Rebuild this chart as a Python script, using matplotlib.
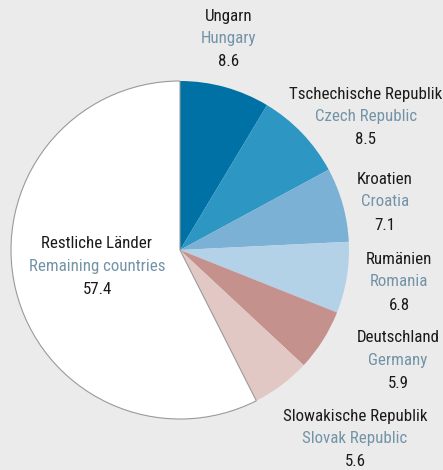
import matplotlib.pyplot as plt

# données : part en %, dans le sens horaire depuis midi
pays_de = ['Ungarn', 'Tschechische Republik', 'Kroatien', 'Rumänien',
           'Deutschland', 'Slowakische Republik', 'Restliche Länder']
pays_en = ['Hungary', 'Czech Republic', 'Croatia', 'Romania',
           'Germany', 'Slovak Republic', 'Remaining countries']
parts = [8.6, 8.5, 7.1, 6.8, 5.9, 5.6, 57.4]

couleurs = ['#0071a4', '#2e96c3', '#7ab1d5', '#b4d2e7', '#c5918d', '#e2c8c4', '#ffffff']
# position des étiquettes (pixels, origine en haut à gauche)
pos_labels = [(229, 17), (366, 95), (385, 180), (399, 260), (398, 338), (355, 417), (97, 244)]

W, H = 443, 470
fig = plt.figure(figsize=(W / 100, H / 100), dpi=100, facecolor='#ebebeb')
ax = fig.add_axes([0, 0, 1, 1])
ax.set_xlim(0, W)
ax.set_ylim(0, H)
ax.set_aspect('equal')
ax.axis('off')

wedges, _ = ax.pie(parts, colors=couleurs, startangle=90, counterclock=False,
                   center=(180, H - 250), radius=169,
                   wedgeprops=dict(linewidth=0))
# fin liseré gris autour de la part blanche
wedges[-1].set_edgecolor('#9a9a9a')
wedges[-1].set_linewidth(0.8)
ax.set_xlim(0, W)
ax.set_ylim(0, H)

police = ['Roboto Condensed', 'DejaVu Sans']
for de, en, v, (x, y) in zip(pays_de, pays_en, parts, pos_labels):
    ax.text(x, H - y, de, ha='center', va='center', fontsize=12.2, family=police, color='#1a1a1a')
    ax.text(x, H - y - 22, en, ha='center', va='center', fontsize=12.2, family=police, color='#7393a7')
    ax.text(x, H - y - 45, f'{v:.1f}', ha='center', va='center', fontsize=12.2, family=police, color='#1a1a1a')

fig.savefig('out.png', dpi=100, facecolor=fig.get_facecolor())
